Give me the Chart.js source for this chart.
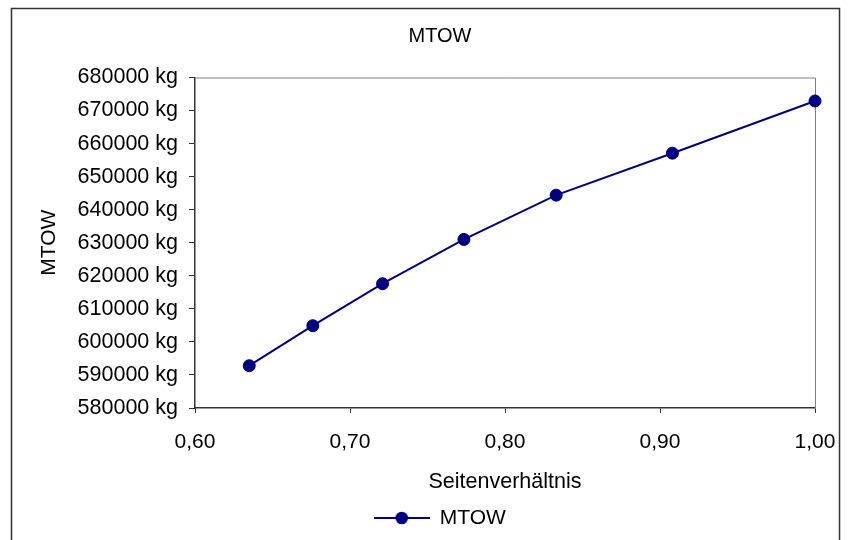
<!DOCTYPE html>
<html>
<head>
<meta charset="utf-8">
<script src="https://cdn.jsdelivr.net/npm/chart.js@4/dist/chart.umd.min.js"></script>
<style>
  html, body { margin: 0; padding: 0; background: #fff; overflow: hidden; }
  #wrap { position: relative; width: 850px; height: 560px; }
</style>
</head>
<body>
<div id="wrap"><canvas id="c" width="850" height="560"></canvas></div>
<script>
// Seitenverhältnis (x) vs. MTOW (y)
const seitenverhaeltnis = [0.635, 0.676, 0.721, 0.7735, 0.833, 0.908, 1.0];
const mtowKg = [592800, 604900, 617600, 631000, 644400, 657100, 672900];
const seriesName = 'MTOW';
const chartTitle = 'MTOW';
const xTitle = 'Seitenverhältnis';
const yTitle = 'MTOW';

const NAVY = '#000080';
const FONT = 'Liberation Sans, Arial, sans-serif';

// legend symbol: line with a dot in the middle
const legendSymbol = document.createElement('canvas');
legendSymbol.width = 56;
legendSymbol.height = 14;
(function () {
  const g = legendSymbol.getContext('2d');
  g.strokeStyle = NAVY;
  g.lineWidth = 2;
  g.beginPath();
  g.moveTo(0, 7);
  g.lineTo(56, 7);
  g.stroke();
  g.fillStyle = NAVY;
  g.beginPath();
  g.arc(28, 7, 6.3, 0, Math.PI * 2);
  g.fill();
})();

// outer frame and the grey top/right edges of the plot area
const framePlugin = {
  id: 'frame',
  beforeDraw(chart) {
    const ctx = chart.ctx;
    ctx.save();
    ctx.fillStyle = '#fff';
    ctx.fillRect(0, 0, chart.width, chart.height);
    ctx.strokeStyle = '#333';
    ctx.lineWidth = 1.5;
    ctx.strokeRect(11.5, 8.5, 828, 600);
    ctx.restore();
  },
  beforeDatasetsDraw(chart) {
    const { left, top, right, bottom } = chart.chartArea;
    const ctx = chart.ctx;
    ctx.save();
    ctx.strokeStyle = '#808080';
    ctx.lineWidth = 1;
    ctx.beginPath();
    ctx.moveTo(left, top + 0.5);
    ctx.lineTo(right + 0.5, top + 0.5);
    ctx.lineTo(right + 0.5, bottom);
    ctx.stroke();
    ctx.restore();
  }
};

new Chart(document.getElementById('c'), {
  type: 'scatter',
  data: {
    datasets: [{
      label: seriesName,
      data: seitenverhaeltnis.map((x, i) => ({ x, y: mtowKg[i] })),
      showLine: true,
      borderColor: NAVY,
      backgroundColor: NAVY,
      borderWidth: 2,
      pointRadius: 6,
      pointBorderWidth: 1,
      pointBackgroundColor: NAVY,
      pointBorderColor: NAVY,
      tension: 0,
      clip: false
    }]
  },
  options: {
    responsive: false,
    animation: false,
    devicePixelRatio: 1,
    layout: { padding: { left: 30, right: 0, top: 0, bottom: 21.5 } },
    plugins: {
      title: {
        display: true,
        text: chartTitle,
        color: '#000',
        font: { family: FONT, size: 20, weight: 'normal' },
        padding: { top: 24, bottom: 29.5 }
      },
      legend: {
        display: true,
        position: 'bottom',
        labels: {
          usePointStyle: true,
          pointStyle: legendSymbol,
          pointStyleWidth: 55,
          padding: 10,
          color: '#000',
          font: { family: FONT, size: 21 }
        }
      },
      tooltip: { enabled: false }
    },
    scales: {
      x: {
        type: 'linear',
        min: 0.6,
        max: 1.0,
        ticks: {
          stepSize: 0.1,
          color: '#000',
          font: { family: FONT, size: 21 },
          padding: 16.5,
          maxRotation: 0,
          callback: v => v.toFixed(2).replace('.', ',')
        },
        grid: { display: true, drawOnChartArea: false, drawTicks: true, tickLength: 5, color: '#333', lineWidth: 1 },
        border: { display: true, color: '#333', width: 1.5 },
        title: {
          display: true,
          text: xTitle,
          color: '#000',
          font: { family: FONT, size: 21.5 },
          padding: { top: 0, bottom: 2.5 }
        },
        afterFit(scale) {
          scale.height = 89.5;
          scale.paddingRight = 35;
        }
      },
      y: {
        type: 'linear',
        min: 580000,
        max: 680000,
        ticks: {
          stepSize: 10000,
          color: '#000',
          font: { family: FONT, size: 21.5 },
          padding: 11,
          callback: v => v + ' kg'
        },
        grid: { display: true, drawOnChartArea: false, drawTicks: true, tickLength: 6, color: '#333', lineWidth: 1 },
        border: { display: true, color: '#333', width: 1.5 },
        title: {
          display: true,
          text: yTitle,
          color: '#000',
          font: { family: FONT, size: 21 },
          padding: { top: 7, bottom: 0 }
        },
        afterFit(scale) {
          scale.width = 165;
        }
      }
    }
  },
  plugins: [framePlugin]
});
</script>
</body>
</html>
